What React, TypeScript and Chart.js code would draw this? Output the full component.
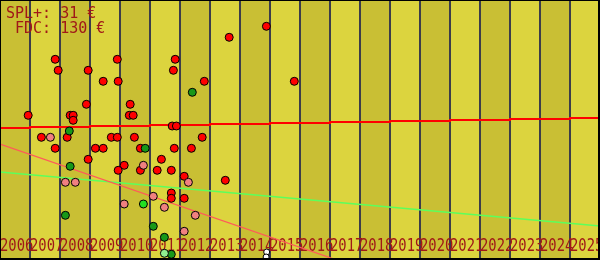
import React, { useEffect, useRef } from "react";
import { Chart, registerables } from "chart.js";

Chart.register(...registerables);

// Year columns along the x axis
const yearTicks = [2006, 2007, 2008, 2009, 2010, 2011, 2012, 2013, 2014, 2015, 2016, 2017, 2018, 2019, 2020, 2021, 2022, 2023, 2024, 2025];
const yearLabels = ["2006", "2007", "2008", "2009", "2010", "2011", "2012", "2013", "2014", "2015", "2016", "2017", "2018", "2019", "2020", "2021", "2022", "2023", "2024", "2025"];
const titleLines = ["SPL+: 31 €", " FDC: 130 €"];

// Scatter points [year, price €]
const redPoints: [number, number][] = [
  [2007.84, 198.7], [2007.94, 187.7], [2008.94, 187.7], [2009.44, 176.7], [2009.91, 198.7],
  [2009.94, 176.7], [2011.84, 198.7], [2011.78, 187.7], [2008.88, 153.7], [2010.34, 153.7],
  [2006.94, 142.7], [2008.34, 142.7], [2008.44, 142.7], [2008.44, 137.7], [2010.31, 142.7],
  [2010.44, 142.7], [2011.74, 132], [2011.88, 132], [2007.38, 120.7], [2008.24, 120.7],
  [2009.71, 120.7], [2009.91, 120.7], [2010.48, 120.7], [2007.84, 109.7], [2009.18, 109.7],
  [2009.44, 109.7], [2010.68, 109.7], [2011.81, 109.7], [2012.38, 109.7], [2008.94, 98.7],
  [2011.38, 98.7], [2010.14, 92.7], [2009.94, 87.7], [2010.68, 87.7], [2011.24, 87.7],
  [2011.71, 87.7], [2012.14, 81.7], [2011.71, 65], [2011.71, 59.7], [2012.14, 59.7],
  [2013.64, 220.7], [2014.88, 231.7], [2012.81, 176.7], [2015.81, 176.7], [2012.74, 120.7],
  [2013.51, 77.7],
];
const pinkPoints: [number, number][] = [
  [2007.68, 120.7], [2010.78, 92.7], [2012.28, 75.7], [2008.18, 75.7], [2008.51, 75.7],
  [2011.11, 61.7], [2010.14, 54], [2011.48, 50.7], [2012.51, 42.7], [2012.14, 26.7],
];
const darkGreenPoints: [number, number][] = [
  [2012.41, 165.7], [2008.31, 127], [2010.84, 109.7], [2008.34, 91.7], [2008.18, 42.7],
  [2011.11, 31.7], [2011.48, 20.7], [2011.71, 3.7],
];
const brightGreenPoints: [number, number][] = [[2010.78, 54]];
const lightGreenPoints: [number, number][] = [[2011.48, 4.7]];
const whitePoints: [number, number][] = [[2014.89, 6], [2014.87, 1]];

// Lines
const fdcSteps: [number, number][] = [
  [2006, 130], [2007, 131], [2009, 132], [2011, 133], [2013, 134], [2015, 135],
  [2017, 136], [2019, 137], [2021, 138], [2023, 139], [2025, 140], [2026, 140],
];
const redTrend: [number, number][] = [[2006, 114], [2018, -10]];
const greenTrend: [number, number][] = [[2006, 86], [2026, 32]];

const LIGHT = "#dcd43e";
const DARK = "#c9bf34";
const GRID = "#3c3c4a";
const TEXT = "#a01818";

const toXY = (arr: [number, number][]) => arr.map(([x, y]) => ({ x, y }));

const backdrop = {
  id: "backdrop",
  beforeDatasetsDraw(chart: any) {
    const { ctx, chartArea } = chart;
    const xs = chart.scales.x;
    const top = chartArea.top;
    const h = chartArea.bottom - chartArea.top;
    ctx.save();
    for (let i = 0; i < yearTicks.length; i++) {
      const x0 = xs.getPixelForValue(yearTicks[i]);
      const x1 = xs.getPixelForValue(yearTicks[i] + 1);
      ctx.fillStyle = i % 2 === 0 ? DARK : LIGHT;
      ctx.fillRect(x0, top, x1 - x0, h);
    }
    ctx.fillStyle = GRID;
    for (let i = 1; i < yearTicks.length; i++) {
      const px = Math.round(xs.getPixelForValue(yearTicks[i]));
      ctx.fillRect(px - 1, top, 2, h);
    }
    ctx.fillStyle = TEXT;
    ctx.textBaseline = "alphabetic";
    ctx.textAlign = "left";
    ctx.font = '17.5px "DejaVu Sans Mono"';
    for (let i = 0; i < yearTicks.length; i++) {
      const px = xs.getPixelForValue(yearTicks[i]);
      ctx.save();
      ctx.translate(px, 251);
      ctx.scale(0.79, 1);
      ctx.fillText(yearLabels[i], 0, 0);
      ctx.restore();
    }
    ctx.font = '15px "DejaVu Sans Mono"';
    ctx.fillText(titleLines[0], 6, 17.5);
    ctx.fillText(titleLines[1], 6, 33);
    ctx.restore();
  },
  afterDraw(chart: any) {
    const { ctx, width, height } = chart;
    ctx.save();
    ctx.fillStyle = "#000000";
    ctx.fillRect(0, 0, width, 1);
    ctx.fillRect(0, 0, 1, height);
    ctx.fillRect(width - 2, 0, 2, height);
    ctx.fillRect(0, height - 2, width, 2);
    ctx.restore();
  },
};

const pointDs = (data: [number, number][], color: string, r = 4) => ({
  type: "scatter" as const,
  data: toXY(data),
  backgroundColor: color,
  borderColor: "#000000",
  borderWidth: 1,
  pointRadius: r,
  pointHoverRadius: r,
  showLine: false,
  order: 1,
});

export default function App() {
  const ref = useRef<HTMLCanvasElement | null>(null);
  useEffect(() => {
    document.body.style.margin = "0";
    document.body.style.overflow = "hidden";
    if (!ref.current) return;
    const chart = new Chart(ref.current, {
      type: "scatter",
      data: {
        datasets: [
          pointDs(whitePoints, "#ffffff", 3),
          pointDs(lightGreenPoints, "#90f090"),
          pointDs(brightGreenPoints, "#22e022"),
          pointDs(darkGreenPoints, "#189818"),
          pointDs(pinkPoints, "#f08080"),
          pointDs(redPoints, "#ff0000"),
          {
            type: "line" as const,
            data: toXY(fdcSteps),
            borderColor: "#ff0000",
            borderWidth: 2,
            pointRadius: 0,
            stepped: "before",
            fill: false,
            order: 5,
          },
          {
            type: "line" as const,
            data: toXY(redTrend),
            borderColor: "#ff5a5a",
            borderWidth: 1.2,
            pointRadius: 0,
            fill: false,
            order: 6,
          },
          {
            type: "line" as const,
            data: toXY(greenTrend),
            borderColor: "#5cff5c",
            borderWidth: 1.5,
            pointRadius: 0,
            fill: false,
            order: 6,
          },
        ] as any,
      },
      options: {
        animation: false,
        responsive: false,
        layout: { autoPadding: false, padding: { left: 0, right: 0, top: 0, bottom: 2 } },
        plugins: { legend: { display: false }, tooltip: { enabled: false } },
        events: [],
        scales: {
          x: { type: "linear", min: 2006, max: 2026, display: false },
          y: { type: "linear", min: 0, max: 258, display: false },
        },
      },
      plugins: [backdrop],
    });
    return () => chart.destroy();
  }, []);
  return <canvas ref={ref} width={600} height={260} style={{ display: "block" }} />;
}
